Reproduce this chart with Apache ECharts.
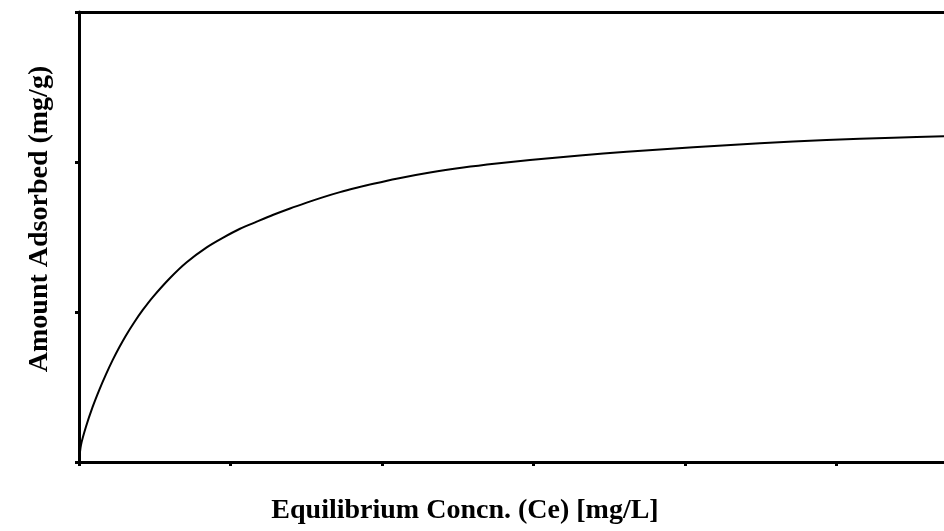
<!DOCTYPE html>
<html>
<head>
<meta charset="utf-8">
<script src="https://cdn.jsdelivr.net/npm/echarts@6/dist/echarts.min.js"></script>
<style>html,body{margin:0;padding:0;background:#fff;}#c{width:944px;height:531px;}</style>
</head>
<body>
<div id="c"></div>
<script>
const xTitle = 'Equilibrium Concn. (Ce) [mg/L]';
const yTitle = 'Amount Adsorbed (mg/g)';
const xTicks = [0, 1, 2, 3, 4, 5];
const ceValues = [0, 0.013, 0.046, 0.090, 0.134, 0.178, 0.222, 0.266, 0.310, 0.365, 0.420, 0.486, 0.601, 0.711, 0.843, 0.952, 1.063, 1.173, 1.283, 1.393, 1.503, 1.613, 1.723, 1.833, 1.943, 2.096, 2.317, 2.537, 2.757, 2.977, 3.307, 3.615, 4.055, 4.495, 4.935, 5.375, 5.71];
const qeValues = [0, 0.113, 0.235, 0.367, 0.481, 0.584, 0.679, 0.765, 0.844, 0.932, 1.012, 1.098, 1.227, 1.332, 1.431, 1.496, 1.555, 1.602, 1.648, 1.690, 1.729, 1.766, 1.799, 1.828, 1.855, 1.889, 1.930, 1.963, 1.990, 2.013, 2.044, 2.068, 2.098, 2.125, 2.147, 2.162, 2.172];

const chart = echarts.init(document.getElementById('c'), null, {renderer: 'canvas'});
const axisLine = {show: true, lineStyle: {color: '#000', width: 3}};
chart.setOption({
  animation: false,
  backgroundColor: '#fff',
  grid: {left: 79, top: 12, bottom: 69, right: 0, containLabel: false},
  xAxis: [{
    type: 'value', min: 0, max: 5.71, interval: 1, position: 'bottom',
    axisLine: axisLine,
    axisTick: {show: true, length: 4, customValues: xTicks, lineStyle: {color: '#000', width: 3}},
    axisLabel: {show: false}, splitLine: {show: false}
  }, {
    type: 'value', min: 0, max: 5.71, interval: 1, position: 'top',
    axisLine: axisLine, axisTick: {show: false},
    axisLabel: {show: false}, splitLine: {show: false}
  }],
  yAxis: {
    type: 'value', min: 0, max: 3, interval: 1,
    axisLine: axisLine, axisTick: {show: true, length: 4, lineStyle: {color: '#000', width: 3}},
    axisLabel: {show: false}, splitLine: {show: false}
  },
  series: [{
    type: 'line', smooth: 0.25, symbol: 'none', clip: false,
    lineStyle: {color: '#000', width: 2},
    data: ceValues.map((c, i) => [c, qeValues[i]])
  }],
  graphic: [{
    type: 'text', x: 465, y: 497,
    style: {text: xTitle, font: 'bold 28px "Liberation Serif", serif', fill: '#000', textAlign: 'center'}
  }, {
    type: 'text', x: 40, y: 219, rotation: Math.PI / 2,
    style: {text: yTitle, font: 'bold 28px "Liberation Serif", serif', fill: '#000', textAlign: 'center', textVerticalAlign: 'middle'}
  }]
});
</script>
</body>
</html>
